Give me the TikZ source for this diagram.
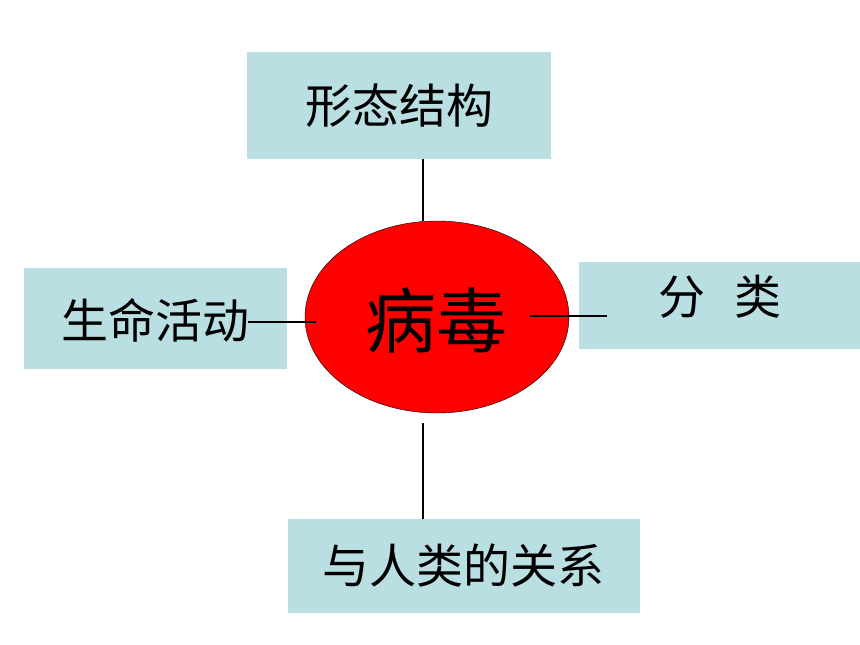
\documentclass[tikz,border=0pt]{standalone}
\usepackage{fontspec}
\setmainfont{Noto Sans CJK SC}
\usetikzlibrary{shapes.geometric, positioning}
\definecolor{topiccolor}{RGB}{186,223,226}
\definecolor{viruscolor}{RGB}{255,0,0}

\begin{document}
\begin{tikzpicture}[
    x=1pt, y=-1pt,
    topic/.style={fill=topiccolor, inner sep=0pt, font=\fontsize{47}{52}\selectfont},
    virus/.style={draw=black, thin, fill=viruscolor, ellipse, inner sep=0pt, minimum width=264pt, minimum height=192pt},
    connector/.style={line width=1.6pt, black}
]
    \useasboundingbox (0,0) rectangle (860,645);

    % Topics
    \node[topic, minimum width=304pt, minimum height=107pt] (form) at (399,105.5) {形态结构};
    \node[topic, minimum width=263pt, minimum height=101pt] (life) at (155.5,318.5) {};
    \node[topic, minimum width=281pt, minimum height=87pt] (kind) at (719.5,305.5) {};
    \node[topic, minimum width=352pt, minimum height=94pt] (human) at (463.5,566) {与人类的关系};

    % Labels inside the side topics
    \node[topic, fill=none] (lifetext) at (155,320) {生命活动};
    \node[topic, fill=none] (kindtext) at (720,297) {分\hspace{0.6em}类};

    % Virus
    \node[virus] (virus) at (437,317) {};
    \node[font=\fontsize{71}{76}\selectfont, inner sep=0pt] (virustext) at (436,320) {病毒};

    % Free ends
    \coordinate (lifeend) at (248,322);
    \coordinate (virusleft) at (316,322);
    \coordinate (virusright) at (530,316);
    \coordinate (kindend) at (607,316);
    \coordinate (virusbottom) at (423,423);

    % Connectors
    \draw[connector] (form.south -| virusbottom) -- (virus.north -| virusbottom);
    \draw[connector] (lifeend) -- (virusleft);
    \draw[connector] (virusright) -- (kindend);
    \draw[connector] (virusbottom) -- (human.north -| virusbottom);
\end{tikzpicture}
\end{document}
